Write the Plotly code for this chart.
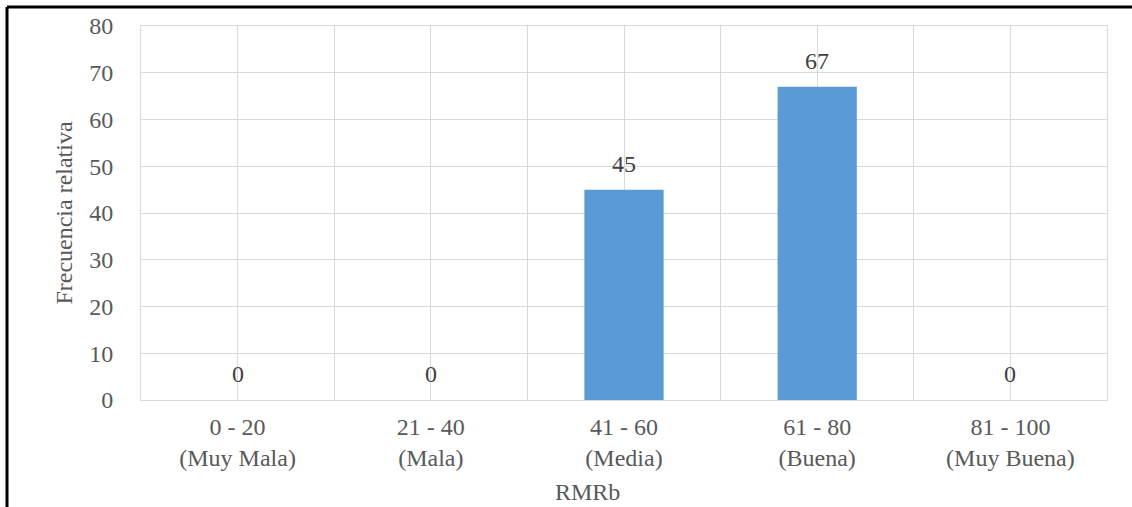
import plotly.graph_objects as go

# RMRb quality classes and their relative frequencies
categories = ["0 - 20<br>(Muy Mala)", "21 - 40<br>(Mala)", "41 - 60<br>(Media)",
              "61 - 80<br>(Buena)", "81 - 100<br>(Muy Buena)"]
values = [0, 0, 45, 67, 0]
y_ticks = [0, 10, 20, 30, 40, 50, 60, 70, 80]

W, H = 1132, 507
M_L, M_R, M_T, M_B = 141, 25, 26, 107
FONT = "Liberation Serif, Times New Roman, serif"
TICK_COLOR = "#595959"
GRID = "#d9d9d9"

xs = list(range(len(categories)))
pw = W - M_L - M_R
ph = H - M_T - M_B


def px_x(p):
    return (p - M_L) / pw


def px_y(p):
    return 1 - (p - M_T) / ph


fig = go.Figure()
fig.add_trace(go.Bar(
    x=xs, y=values,
    marker=dict(color="#5b9bd5", line=dict(width=0)),
    width=0.41,
    hoverinfo="skip",
))

# value labels above each bar
for x, v in zip(xs, values):
    fig.add_annotation(
        x=x, y=v, xref="x", yref="y", text=str(v), showarrow=False,
        yanchor="bottom", yshift=11,
        font=dict(family=FONT, size=24, color="#404040"),
    )

# x-axis title
fig.add_annotation(
    x=px_x(587), y=px_y(492), xref="paper", yref="paper",
    text="RMRb", showarrow=False, xanchor="center", yanchor="middle",
    font=dict(family=FONT, size=24, color=TICK_COLOR),
)

# outer frame (left and top edges)
fig.add_shape(type="line", xref="paper", yref="paper",
              x0=px_x(7), x1=px_x(W + 5), y0=px_y(7), y1=px_y(7),
              line=dict(color="black", width=3))
fig.add_shape(type="line", xref="paper", yref="paper",
              x0=px_x(7), x1=px_x(7), y0=px_y(7), y1=px_y(H + 5),
              line=dict(color="black", width=3))

fig.update_layout(
    width=W, height=H,
    margin=dict(l=M_L, r=M_R, t=M_T, b=M_B, autoexpand=False),
    paper_bgcolor="white", plot_bgcolor="white",
    showlegend=False,
    font=dict(family=FONT, size=24, color=TICK_COLOR),
    xaxis=dict(
        range=[-0.5, len(categories) - 0.5],
        tickvals=xs, ticktext=categories,
        showgrid=True, gridcolor=GRID, gridwidth=1,
        minor=dict(tickvals=[i - 0.5 for i in range(len(categories) + 1)],
                   showgrid=True, gridcolor=GRID, gridwidth=1),
        showline=True, linecolor=GRID, linewidth=1, mirror=True,
        ticks="", zeroline=False,
        ticklabelstandoff=5,
        tickfont=dict(family=FONT, size=24, color=TICK_COLOR),
        fixedrange=True,
    ),
    yaxis=dict(
        range=[0, 80], tickvals=y_ticks,
        showgrid=True, gridcolor=GRID, gridwidth=1,
        showline=True, linecolor=GRID, linewidth=1, mirror=True,
        ticks="", zeroline=False,
        ticklabelstandoff=22,
        tickfont=dict(family=FONT, size=24, color=TICK_COLOR),
        title=dict(text="Frecuencia relativa", standoff=9,
                   font=dict(family=FONT, size=24, color=TICK_COLOR)),
        fixedrange=True,
    ),
)

fig.write_html("out.html")
